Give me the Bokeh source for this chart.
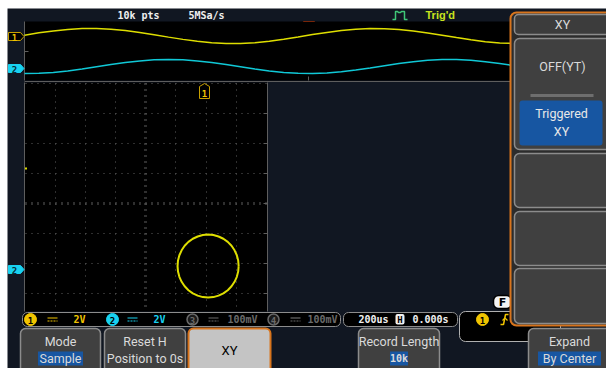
from bokeh.plotting import figure
from bokeh.models import Range1d
from bokeh.core.properties import value
from bokeh.embed import file_html
from bokeh.resources import INLINE

# ---------------- data ----------------
# Top YT overview: time samples in microseconds, channel voltages in volts
t_us = [0, 50, 100, 150, 200, 250, 300, 350, 400, 450, 500, 550, 600, 650, 700,
        750, 800, 850, 900, 950, 1000, 1050, 1100, 1150, 1200, 1250, 1300, 1350,
        1400, 1450, 1500, 1550, 1600, 1650, 1700, 1750, 1800, 1850, 1900, 1950, 2000]
ch1_v = [0.23, 0.84, 1.36, 1.75, 1.97, 1.98, 1.80, 1.44, 0.93, 0.33, -0.30, -0.90,
         -1.41, -1.79, -1.98, -1.97, -1.77, -1.39, -0.87, -0.26, 0.37, 0.96, 1.46,
         1.82, 1.99, 1.96, 1.74, 1.34, 0.80, 0.19, -0.43, -1.02, -1.51, -1.84, -1.99,
         -1.94, -1.70, -1.29, -0.74, -0.12, 0.50]
ch2_v = [-1.99, -1.94, -1.69, -1.27, -0.71, -0.08, 0.56, 1.14, 1.60, 1.90, 2.00, 1.90,
         1.60, 1.14, 0.56, -0.08, -0.71, -1.27, -1.69, -1.94, -1.99, -1.84, -1.50,
         -1.00, -0.40, 0.24, 0.86, 1.38, 1.77, 1.97, 1.97, 1.77, 1.38, 0.86, 0.24,
         -0.40, -1.00, -1.50, -1.84, -1.99, -1.94]

# XY display: CH1 (x) versus CH2 (y), volts relative to the graticule centre
xy_ch1 = [6.16, 6.13, 6.04, 5.89, 5.69, 5.44, 5.15, 4.83, 4.49, 4.14, 3.79, 3.45,
          3.13, 2.84, 2.59, 2.39, 2.24, 2.15, 2.12, 2.15, 2.24, 2.39, 2.59, 2.84,
          3.13, 3.45, 3.79, 4.14, 4.49, 4.83, 5.15, 5.44, 5.69, 5.89, 6.04, 6.13, 6.16]
xy_ch2 = [-4.17, -3.80, -3.45, -3.12, -2.82, -2.56, -2.35, -2.20, -2.10, -2.07, -2.10,
          -2.20, -2.35, -2.56, -2.82, -3.12, -3.45, -3.80, -4.17, -4.54, -4.89, -5.22,
          -5.52, -5.78, -5.99, -6.14, -6.24, -6.27, -6.24, -6.14, -5.99, -5.78, -5.52,
          -5.22, -4.89, -4.54, -4.17]

status_labels = ["10k pts", "5MSa/s"]
trigger_status = "Trig'd"
channel_ids = ["1", "2", "3", "4"]
channel_scales = ["2V", "2V", "100mV", "100mV"]
timebase = "200us"
h_position = "0.000s"
menu_titles = ["Mode", "Reset H", "XY", "Record Length", "Expand"]
menu_values = ["Sample", "Position to 0s", "", "10k", "By Center"]
side_title = "XY"
side_options = ["OFF(YT)", "Triggered", "XY"]

# ---------------- styles ----------------
NAVY = "#111722"
GRIDC = "#5e5e5e"
YEL_T = "#dede00"
YEL_UI = "#f0c400"
CYAN_T = "#10c8d6"
CYAN_UI = "#18d2f0"
BTN = "#404040"
BTN_LINE = "#8c8c8c"
BTN_TXT = "#dadada"
BLUE = "#1756a2"
ORANGE = "#d8741c"
MONO = value("DejaVu Sans Mono")
SANS = value("Roboto")
FS = "12.5px"

X0, X1, Y0, Y1 = 7, 606, 8, 368   # screen area inside the white border
p = figure(width=606, height=368, x_range=Range1d(X0, X1), y_range=Range1d(Y1, Y0),
           output_backend="svg", toolbar_location=None,
           min_border_left=7, min_border_top=8, min_border_right=0, min_border_bottom=0,
           x_axis_location=None, y_axis_location=None,
           background_fill_color=NAVY, border_fill_color="white", outline_line_color=None)
p.grid.visible = False

# scales that map scope units onto the screen areas
K = 0.288                      # px per microsecond in the overview
C1, S1 = 35.5, 3.75            # ch1 centre px, px per volt
C2, S2 = 66.0, 3.5
XC, SX = 145.0, 15.12          # XY graticule centre / px per volt
YC, SY = 203.0, 15.0
p.extra_x_ranges = {"t": Range1d((X0 - 24) / K, (X1 - 24) / K),
                    "xv": Range1d((X0 - XC) / SX, (X1 - XC) / SX)}
p.extra_y_ranges = {"v1": Range1d((C1 - Y1) / S1, (C1 - Y0) / S1),
                    "v2": Range1d((C2 - Y1) / S2, (C2 - Y0) / S2),
                    "yv": Range1d((YC - Y1) / SY, (YC - Y0) / SY)}


def txt(x, y, s, color, font=SANS, size=FS, style="normal", align="center"):
    p.text(x=[x], y=[y], text=[s], text_color=color, text_font=font,
           text_font_size=size, text_font_style=style, text_align=align,
           text_baseline="middle")


# ---------------- status line ----------------
txt(117, 15, status_labels[0], "#f0f0f0", MONO, "10px", "bold", "left")
txt(188, 15, status_labels[1], "#f0f0f0", MONO, "10px", "bold", "left")
p.patch([303, 314, 308.5], [21, 21, 26.5], color="#f04a10")
p.line([392, 395, 395, 397, 398, 400, 401, 404, 404, 407],
       [19, 19, 11, 11, 12, 12, 11, 11, 19, 19], line_color="#40c878", line_width=1.5)
txt(425, 14, trigger_status, "#c8e41e", value("Liberation Sans"), "11px", "bold", "left")

# ---------------- YT overview ----------------
p.quad(left=24, right=606, top=21, bottom=80, fill_color="black", line_color=None)
p.line([24, 24], [21, 80], line_color=GRIDC)
p.line([24, 510], [81, 81], line_color=GRIDC)
p.line([24, 28], [51, 51], line_color=GRIDC)
p.line([308, 308], [76, 80], line_color=GRIDC)
p.line(t_us, ch1_v, x_range_name="t", y_range_name="v1", line_color=YEL_T, line_width=1.5)
p.line(t_us, ch2_v, x_range_name="t", y_range_name="v2", line_color=CYAN_T, line_width=1.5)

# channel markers
p.patch([8, 20, 23.5, 20, 8], [32, 32, 36, 40, 40], fill_color="black", line_color="#c8a000")
txt(14, 36.5, "1", YEL_UI, MONO, "9px", "bold")
p.patch([8, 20, 23.5, 20, 8], [64, 64, 68, 72, 72], fill_color=CYAN_UI, line_color=CYAN_UI)
txt(14, 68.5, "2", "#06303a", MONO, "9px", "bold")

# ---------------- XY graticule ----------------
p.quad(left=24, right=267, top=82, bottom=311, fill_color="black", line_color=None)
p.line([24, 24], [82, 311], line_color=GRIDC)
p.line([267, 267], [82, 311], line_color=GRIDC)
for gx in [55, 85, 115, 175, 206, 236]:
    p.line([gx, gx], [83, 311], line_color=GRIDC, line_dash="1 5")
for gy in [83, 113, 143, 173, 233, 263, 293]:
    p.line([25, 267], [gy, gy], line_color=GRIDC, line_dash="1 5")
p.line([145, 145], [83, 311], line_color=GRIDC, line_dash="1 5", line_width=3)
p.line([25, 267], [203, 203], line_color=GRIDC, line_dash="1 5", line_width=3)
for gy in [113, 143, 173, 203, 233, 263, 293]:
    p.line([263, 267], [gy, gy], line_color=GRIDC)

p.line(xy_ch1, xy_ch2, x_range_name="xv", y_range_name="yv", line_color=YEL_T, line_width=2)

p.quad(left=24.5, right=26.5, top=167, bottom=169, fill_color=YEL_T, line_color=None)
p.patch([199, 209, 209, 204, 199], [98, 98, 86, 83, 86], fill_color="black", line_color="#c8a000")
txt(204, 92.5, "1", YEL_UI, MONO, "9px", "bold")
p.patch([8, 20, 23.5, 20, 8], [265, 265, 269, 273, 273], fill_color=CYAN_UI, line_color=CYAN_UI)
txt(14, 269.5, "2", "#06303a", MONO, "9px", "bold")

# ---------------- channel / timebase / trigger bars ----------------
p.quad(left=22, right=340, top=312, bottom=326, fill_color="black", line_color=BTN_LINE,
       border_radius=5)
ch_x = [30, 112, 192, 273]
ch_col = [YEL_UI, CYAN_UI, "#6a6a6a", "#6a6a6a"]
dc_x = [47, 127, 208, 290]
sc_x = [73, 153, 227, 307]
for i in range(4):
    if i < 2:
        p.scatter([ch_x[i]], [319], size=12, color=ch_col[i])
        txt(ch_x[i], 319.5, channel_ids[i], "black", MONO, "9px", "bold")
    else:
        p.scatter([ch_x[i]], [319], size=11, fill_color="#1a1a1a", line_color=ch_col[i], line_width=1.5)
        txt(ch_x[i], 319.5, channel_ids[i], ch_col[i], MONO, "9px", "bold")
    p.line([dc_x[i], dc_x[i] + 10], [317.5, 317.5], line_color=ch_col[i], line_width=1.2)
    p.line([dc_x[i], dc_x[i] + 10], [320.5, 320.5], line_color=ch_col[i], line_width=1.2, line_dash="2 1")
    txt(sc_x[i], 319, channel_scales[i], ch_col[i], MONO, "10px", "bold", "left")

p.quad(left=343, right=457, top=312, bottom=326, fill_color="black", line_color=BTN_LINE,
       border_radius=5)
txt(358, 319, timebase, "#f0f0f0", MONO, "10px", "bold", "left")
p.quad(left=395, right=404, top=313.5, bottom=324, fill_color="#f0f0f0", line_color=None,
       border_radius=2)
txt(399.5, 319, "H", "black", MONO, "9px", "bold")
txt(412, 319, h_position, "#f0f0f0", MONO, "10px", "bold", "left")

p.quad(left=459, right=560, top=311, bottom=341, fill_color="black", line_color="#b0b0b0",
       border_radius=6)
p.scatter([482], [319], size=12, color=YEL_UI)
txt(482, 319.5, channel_ids[0], "black", MONO, "9px", "bold")
p.line([500, 503, 505, 508], [324, 324, 314, 314], line_color=YEL_UI, line_width=1.5)
p.line([502, 504.5, 507], [320, 317.5, 320], line_color=YEL_UI, line_width=1.2)

# F badge
p.quad(left=493, right=511, top=295, bottom=308, fill_color="#f4f4f4", line_color="black",
       line_width=1.5, border_radius=5)
txt(502, 301.5, "F", "black", value("DejaVu Sans"), "11px", "bold")

# ---------------- bottom soft keys ----------------
btn_l = [20, 104, 188, 358, 528]
btn_r = [100, 185, 270, 439, 612]
for i in range(5):
    cx = (btn_l[i] + btn_r[i]) / 2.0
    if menu_titles[i] == "XY":
        p.quad(left=btn_l[i], right=btn_r[i], top=328, bottom=374, fill_color="#c4c4c4",
               line_color=ORANGE, line_width=2, border_radius=5)
        txt(229, 350, menu_titles[i], "black", SANS, "13px")
        continue
    p.quad(left=btn_l[i], right=btn_r[i], top=328, bottom=374, fill_color=BTN,
           line_color=BTN_LINE, line_width=1.5, border_radius=5)
    if i == 4:
        cx = 569
    txt(cx, 341, menu_titles[i], BTN_TXT)
    if menu_values[i] in ("Sample", "10k", "By Center"):
        w = {"Sample": 45, "10k": 18, "By Center": 63}[menu_values[i]]
        p.quad(left=cx - w / 2, right=cx + w / 2, top=351, bottom=365, fill_color=BLUE,
               line_color=None)
        if menu_values[i] == "10k":
            txt(cx, 358, menu_values[i], BTN_TXT, MONO, "10px", "bold")
        else:
            txt(cx, 358, menu_values[i], BTN_TXT)
    else:
        txt(cx, 358, menu_values[i], BTN_TXT)

# ---------------- right side menu ----------------
p.quad(left=510, right=614, top=12, bottom=325, fill_color="#2c2c2c", line_color=ORANGE,
       line_width=2, border_radius=6)
p.quad(left=514, right=612, top=14, bottom=34, fill_color="#3c3c3c", line_color=BTN_LINE,
       line_width=1.5, border_radius=4)
txt(562, 24, side_title, BTN_TXT)
p.quad(left=514, right=612, top=38, bottom=149, fill_color=BTN, line_color=BTN_LINE,
       line_width=1.5, border_radius=5)
txt(562, 66, side_options[0], BTN_TXT)
p.line([530, 593], [95, 95], line_color="#6e6e6e", line_width=3)
p.quad(left=519, right=602, top=100, bottom=145, fill_color=BLUE, line_color=None,
       border_radius=3)
txt(561, 113, side_options[1], "#e8e8e8")
txt(561, 131, side_options[2], "#e8e8e8")
for top, bot in [(153, 207), (211, 265), (268, 323)]:
    p.quad(left=514, right=612, top=top, bottom=bot, fill_color=BTN, line_color=BTN_LINE,
           line_width=1.5, border_radius=5)

open("out.html", "w").write(file_html(p, INLINE))
